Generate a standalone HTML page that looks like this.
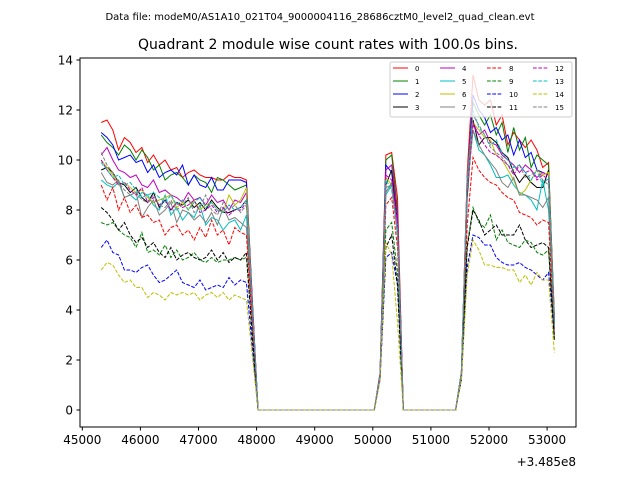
<!DOCTYPE html>
<html><head><meta charset="utf-8"><style>
body{margin:0;background:#fff;}
svg{display:block;font-family:"DejaVu Sans","Liberation Sans",sans-serif;}
</style></head><body>
<svg id="chart" width="640" height="480" viewBox="0 0 640 480">
<text x="320" y="20" font-size="10" text-anchor="middle">Data file: modeM0/AS1A10_021T04_9000004116_28686cztM0_level2_quad_clean.evt</text>
<text x="328" y="49" font-size="14" text-anchor="middle">Quadrant 2 module wise count rates with 100.0s bins.</text>
<g id="plot"></g>
<rect x="80" y="58" width="496" height="369" fill="none" stroke="#000" stroke-width="1"/>
<g id="axes"></g>
<text x="576" y="466" font-size="12" text-anchor="end">+3.485e8</text>
<g id="legend"></g>
</svg>
<script>
const xTicks=[45000,46000,47000,48000,49000,50000,51000,52000,53000];
const yTicks=[0,2,4,6,8,10,12,14];
const binStart=45325;
const binWidth=100;
const colors=['#ff0000','#008000','#0000ff','#000000','#bf00bf','#00bfbf','#bfbf00','#808080','#ff0000','#008000','#0000ff','#000000','#bf00bf','#00bfbf','#bfbf00','#808080'];
const labels=['0','1','2','3','4','5','6','7','8','9','10','11','12','13','14','15'];
const seg1=[
[11.5,11.6,11.2,10.4,10.9,10.7,10.3,10.5,9.9,10.2,9.8,10.0,9.6,9.7,9.3,9.5,9.6,9.4,9.3,9.3,9.2,9.2,9.4,9.3,9.3,9.2,4.5],
[11.0,10.7,10.5,10.2,10.6,10.4,10.0,10.4,10.1,9.6,9.8,9.2,9.4,9.5,9.3,9.0,9.4,9.2,9.1,8.7,9.3,9.2,9.0,8.8,8.9,9.0,4.3],
[11.1,10.9,10.6,10.0,10.1,10.2,9.9,10.0,9.5,9.8,9.3,9.5,9.6,9.4,9.8,9.0,9.4,9.0,8.9,9.3,8.8,8.8,9.2,9.2,9.2,9.1,4.4],
[9.6,9.7,9.5,9.1,9.0,8.7,8.9,8.5,8.3,8.7,8.1,8.4,8.0,8.3,8.2,8.4,8.1,8.3,8.0,8.4,8.1,7.9,7.9,8.0,8.1,8.4,4.0],
[10.2,10.5,10.0,9.6,9.5,9.3,9.4,9.0,8.9,9.2,8.7,8.8,8.6,8.5,8.3,8.7,8.4,8.5,8.2,8.6,8.3,8.4,8.0,8.4,8.3,8.7,4.2],
[9.2,9.0,8.9,9.1,8.5,8.6,8.4,8.7,8.6,8.2,8.0,8.6,7.8,8.1,7.6,7.9,7.7,8.2,7.4,7.7,7.6,7.2,7.5,7.6,7.2,7.8,3.8],
[10.0,9.7,9.4,9.0,9.1,8.9,8.7,8.8,8.5,8.3,8.4,8.5,8.6,8.1,8.3,8.0,8.4,8.0,8.2,8.3,8.0,7.9,8.6,8.2,8.4,8.9,4.2],
[9.5,9.1,9.0,9.2,8.5,8.6,8.7,7.7,8.1,8.4,7.8,8.0,8.3,7.5,8.0,7.9,7.6,7.8,7.5,7.9,7.4,8.1,7.6,7.7,7.5,7.3,3.7],
[9.0,8.4,8.9,8.0,8.5,7.9,8.2,7.7,7.8,7.5,7.6,7.0,7.3,7.4,7.0,7.2,6.8,7.3,6.9,7.6,7.0,7.2,6.6,7.3,7.1,7.0,3.5],
[7.5,7.4,7.5,7.2,7.0,6.9,6.5,7.1,6.3,6.4,6.2,6.6,6.1,6.4,6.0,6.1,6.3,6.0,5.9,6.1,5.9,6.0,6.0,6.1,6.0,6.1,3.0],
[6.5,6.8,6.3,6.2,5.6,5.6,5.5,5.7,5.8,5.4,5.1,5.2,5.4,5.6,5.1,5.0,4.9,5.2,4.8,4.9,5.0,4.9,5.3,5.0,5.2,5.1,2.5],
[8.1,7.9,7.6,7.2,7.5,7.0,6.7,6.9,6.5,6.7,6.3,6.1,6.5,6.0,6.2,6.3,6.1,6.0,6.1,6.4,6.0,6.3,5.9,6.1,6.0,6.3,3.0],
[10.0,9.6,9.3,9.0,9.1,8.8,8.6,8.9,8.3,8.5,8.2,8.4,8.0,8.3,8.1,8.2,8.4,7.9,8.0,8.2,7.9,8.1,7.8,8.0,8.0,8.3,4.0],
[9.9,9.6,9.3,9.4,9.0,9.1,8.8,8.5,8.6,8.7,8.5,8.3,8.6,8.2,8.4,8.0,8.3,8.5,8.1,8.3,8.0,7.9,8.2,8.0,8.1,8.4,4.2],
[5.6,5.9,5.8,5.4,5.1,5.2,4.9,4.9,4.5,4.7,4.6,4.4,4.7,4.6,4.7,4.6,4.7,4.4,4.6,4.7,4.5,4.7,4.4,4.6,4.5,4.4,2.2],
[10.3,9.8,9.5,9.1,8.8,8.6,8.7,8.4,8.3,8.6,8.2,8.1,8.4,8.0,8.2,8.5,7.9,8.1,8.6,8.0,7.8,8.3,8.0,8.2,7.9,8.2,4.1]
];
const gap1=21;
const seg2=[
[1.5,10.2,10.3,8.5],[1.4,10.0,10.2,8.0],[1.4,9.8,9.5,7.5],[1.3,9.0,9.6,7.5],
[1.4,9.6,9.8,7.8],[1.3,8.6,9.0,7.0],[1.3,9.3,9.0,7.2],[1.3,8.7,9.1,7.3],
[1.3,8.2,8.5,6.5],[1.3,7.2,7.5,5.5],[1.2,6.1,6.3,5.0],[1.3,6.5,7.0,5.0],
[1.4,9.4,9.2,7.5],[1.4,9.2,8.8,7.2],[1.2,6.7,6.2,3.5],[1.3,8.9,9.0,7.0]
];
const gap2=10;
const seg3=[
[1.5,9.5,13.4,12.4,12.2,12.4,11.4,11.8,10.6,11.1,10.8,10.5,10.8,10.4,9.7,9.9,3.5],
[1.5,9.2,12.3,11.8,11.4,11.8,11.0,11.5,10.3,11.3,10.4,10.9,9.7,10.2,10.0,9.8,3.8],
[1.5,9.0,12.6,12.0,11.7,11.1,11.3,10.8,11.0,10.2,10.8,10.1,10.3,9.6,9.5,9.4,3.6],
[1.4,8.5,11.6,10.6,10.9,10.9,10.7,10.3,10.1,9.5,9.1,9.4,9.1,8.9,8.9,9.6,3.4],
[1.5,9.3,11.4,11.0,11.2,10.7,10.6,10.2,10.0,9.8,9.5,9.8,9.6,9.3,9.5,9.4,3.7],
[1.4,8.9,11.2,10.4,10.2,9.8,9.3,9.3,9.4,9.0,8.7,8.6,8.4,8.0,9.2,8.0,3.3],
[1.5,9.2,11.5,11.2,10.9,10.8,10.2,10.0,9.6,9.2,8.6,8.8,9.2,9.6,9.4,9.5,3.6],
[1.4,8.8,11.2,10.6,10.2,9.9,9.6,9.1,8.9,9.3,8.6,8.6,8.5,8.4,8.1,8.5,3.2],
[1.3,7.4,10.1,9.6,9.3,9.1,9.0,8.7,8.5,8.4,7.9,7.8,7.7,7.4,7.6,7.5,3.0],
[1.3,6.6,8.1,7.5,7.3,7.8,6.8,7.2,6.7,6.6,6.5,6.8,6.7,6.3,6.2,6.4,2.8],
[1.2,5.7,7.0,6.9,6.6,6.6,6.1,5.9,5.8,5.8,5.9,5.7,5.6,5.4,5.2,5.5,3.0],
[1.3,6.5,8.0,7.6,7.0,7.2,7.4,7.0,7.0,7.0,7.4,6.8,6.5,6.6,6.7,6.5,2.8],
[1.5,9.0,11.5,11.0,10.6,10.3,10.2,10.0,9.8,9.4,9.8,9.5,9.6,9.2,9.4,9.2,3.5],
[1.5,9.2,12.0,11.3,11.0,10.6,10.8,10.3,10.0,9.7,9.8,9.5,9.2,9.6,9.0,9.3,3.5],
[1.2,5.4,6.8,6.4,5.8,5.8,5.7,5.7,5.6,5.6,5.1,5.4,5.0,5.5,5.2,5.2,2.3],
[1.5,9.4,11.8,11.4,11.0,10.5,10.3,10.1,9.8,9.6,9.8,9.3,9.4,9.6,9.2,9.0,3.4]
];
const X=t=>82.3+(t-45000)*0.0581;
const Y=v=>410-v*25;
const NS="http://www.w3.org/2000/svg";
function mk(tag,attrs,parent){const e=document.createElementNS(NS,tag);for(const k in attrs)e.setAttribute(k,attrs[k]);parent.appendChild(e);return e;}
const plot=document.getElementById('plot');
for(let s=0;s<16;s++){
  const vals=[].concat(seg1[s],new Array(gap1).fill(0),seg2[s],new Array(gap2).fill(0),seg3[s]);
  const pts=vals.map((v,i)=>X(binStart+i*binWidth).toFixed(2)+','+Y(v).toFixed(2)).join(' ');
  const pl=mk('polyline',{points:pts,fill:'none',stroke:colors[s],'stroke-width':1,'stroke-dasharray':s>=8?'3.7,1.6':'none'},plot);
  
  
}
const axes=document.getElementById('axes');
xTicks.forEach(t=>{
  const x=X(t);
  const l=mk('line',{x1:x,x2:x,y1:427,y2:430.5,stroke:'#000'},axes);
  
  
  const tx=mk('text',{x:x,y:444,'font-size':12,'text-anchor':'middle'},axes);
  tx.textContent=t;
  
  
});
yTicks.forEach(t=>{
  const y=Y(t);
  const l=mk('line',{x1:76.5,x2:80,y1:y,y2:y,stroke:'#000'},axes);
  
  
  const tx=mk('text',{x:73,y:y+4.5,'font-size':12,'text-anchor':'end'},axes);
  tx.textContent=t;
  
  
});
const leg=document.getElementById('legend');
const box=mk('rect',{x:390,y:62,width:182,height:55,rx:2,fill:'#fff','fill-opacity':0.8,stroke:'#ccc'},leg);


const colX=[393,440,487,533];
for(let s=0;s<16;s++){
  const c=Math.floor(s/4),r=s%4;
  const y=68+r*13;
  const g=mk('g',{},leg);
  
  
  mk('line',{x1:colX[c],x2:colX[c]+15,y1:y,y2:y,stroke:colors[s],'stroke-width':1,'stroke-dasharray':s>=8?'3.7,1.6':'none'},g);
  const tx=mk('text',{x:colX[c]+22,y:y+3,'font-size':7},g);
  tx.textContent=labels[s];
}
</script>
</body></html>
